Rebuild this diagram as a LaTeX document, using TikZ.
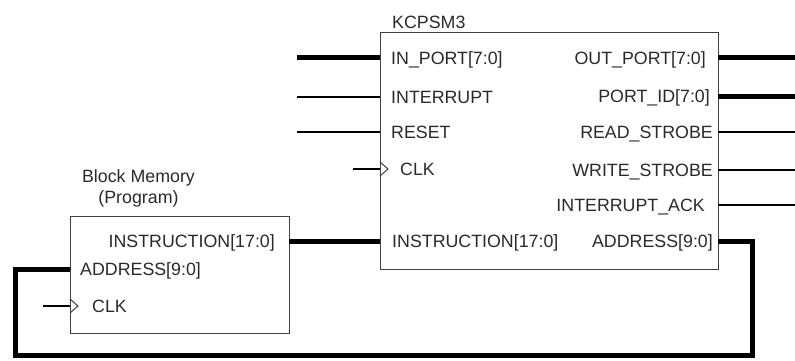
\documentclass[tikz,border=0pt]{standalone}
\usepackage{fontspec}
\setmainfont{Liberation Sans}
\definecolor{txt}{HTML}{2A2A2A}
\definecolor{edge}{HTML}{404040}
\begin{document}
\begin{tikzpicture}[x=1pt,y=-1pt,
  font=\fontsize{17.8}{21}\selectfont,
  block/.style={draw=edge, line width=1.2pt, fill=white, inner sep=0pt, anchor=north west},
  lab/.style={text=txt, inner sep=0pt},
  lw/.style={lab, anchor=base west},
  le/.style={lab, anchor=base east},
  thin/.style={draw=black, line width=1.1pt},
  bus/.style={draw=black, line width=5pt, line join=miter},
  clkmark/.style={draw=edge, line width=1pt}]
\useasboundingbox (0,0) rectangle (795,361);

% boxes
\node[block, minimum width=338pt, minimum height=237pt] (k) at (380,32) {};
\node[block, minimum width=219pt, minimum height=117pt] (m) at (70,216) {};

% titles
\node[lw] (ktitle) at (392,28.5) {KCPSM3};
\node[lab, align=center] (mtitle) at (138.5,188.5) {Block Memory\\(Program)};

% KCPSM3 port points
\coordinate (kin)   at (380,58);
\coordinate (kint)  at (380,97);
\coordinate (krst)  at (380,132);
\coordinate (kclk)  at (380,169);
\coordinate (kinst) at (380,241);
\coordinate (kout)  at (718,58);
\coordinate (kpid)  at (718,96);
\coordinate (krd)   at (718,132);
\coordinate (kwr)   at (718,170);
\coordinate (kack)  at (718,205);
\coordinate (kaddr) at (718,241);
% Block memory port points
\coordinate (minst) at (289,241);
\coordinate (maddr) at (70,269);
\coordinate (mclk)  at (70,306);

% free ends
\coordinate (ein)  at (297,58);
\coordinate (eint) at (297,97);
\coordinate (erst) at (297,132);
\coordinate (eclk) at (353,169);
\coordinate (eout) at (795,58);
\coordinate (epid) at (795,96);
\coordinate (erd)  at (795,132);
\coordinate (ewr)  at (795,170);
\coordinate (eack) at (795,205);
\coordinate (emclk) at (43,306);
\coordinate (l1) at (752,241);
\coordinate (l2) at (752,355);
\coordinate (l3) at (15,355);
\coordinate (l4) at (15,269);

% KCPSM3 labels
\node[lw] (tin)   at (391,64.5)  {IN\_PORT[7:0]};
\node[lw] (tint)  at (391,103.5) {INTERRUPT};
\node[lw] (trst)  at (391,138.5) {RESET};
\node[lw] (tclk)  at (400,175.5) {CLK};
\node[lw] (tinst) at (392,247.5) {INSTRUCTION[17:0]};
\node[le] (tout)  at (706,64.5)  {OUT\_PORT[7:0]};
\node[le] (tpid)  at (710,102.5) {PORT\_ID[7:0]};
\node[le] (trd)   at (713,138.5) {READ\_STROBE};
\node[le] (twr)   at (713,176.5) {WRITE\_STROBE};
\node[le] (tack)  at (705,211.5) {INTERRUPT\_ACK};
\node[le] (taddr) at (713,247.5) {ADDRESS[9:0]};
% Block memory labels
\node[le] (minstt) at (275,247.5) {INSTRUCTION[17:0]};
\node[lw] (maddrt) at (80,275.5)  {ADDRESS[9:0]};
\node[lw] (mclkt)  at (92,312.5)  {CLK};

% clock marks
\draw[clkmark] ([yshift=7pt]kclk) -- ++(8,7) -- ++(-8,7);
\draw[clkmark] ([yshift=7pt]mclk) -- ++(8,7) -- ++(-8,7);

% connectors
\draw[bus]  (ein) -- (kin);
\draw[thin] (eint) -- (kint);
\draw[thin] (erst) -- (krst);
\draw[thin] (eclk) -- (kclk);
\draw[bus]  (kout) -- (eout);
\draw[bus]  (kpid) -- (epid);
\draw[thin] (krd) -- (erd);
\draw[thin] (kwr) -- (ewr);
\draw[thin] (kack) -- (eack);
\draw[bus]  (minst) -- (kinst);
\draw[thin] (emclk) -- (mclk);
\draw[bus]  (kaddr) -- (l1) -- (l2) -- (l3) -- (l4) -- (maddr);
\end{tikzpicture}
\end{document}
